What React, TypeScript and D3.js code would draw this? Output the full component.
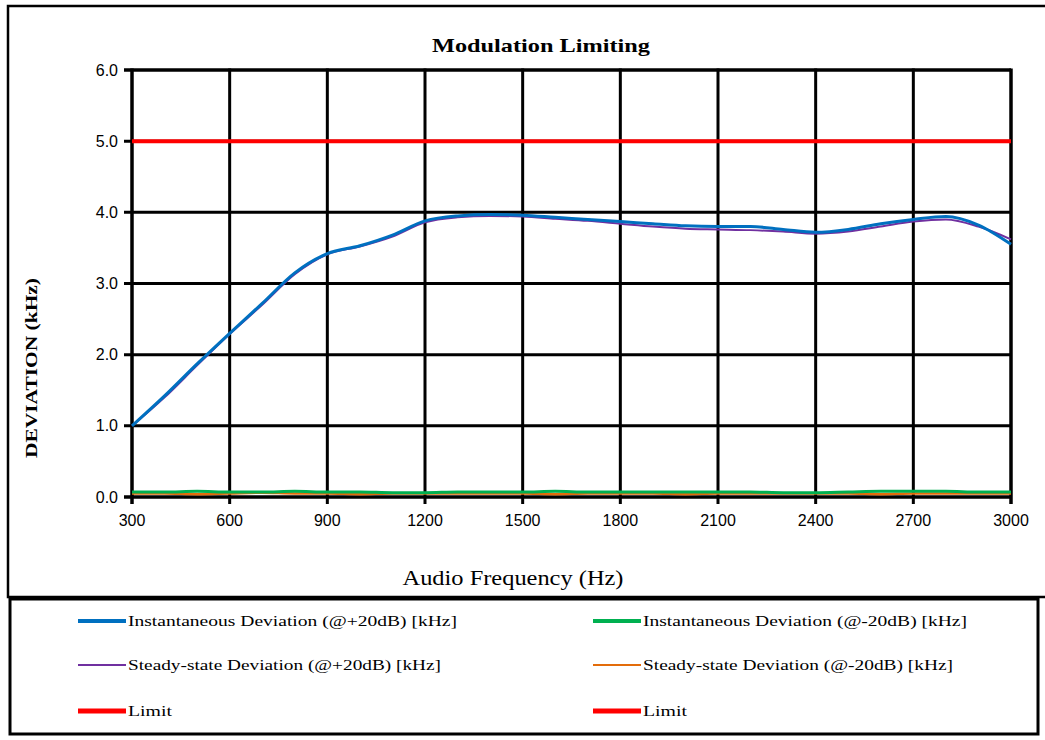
import * as React from "react";
import * as d3 from "d3";

// audio frequency points (Hz)
const freqs = [
  300, 400, 500, 600, 700, 800, 900, 1000, 1100, 1200, 1300, 1400, 1500, 1600,
  1700, 1800, 1900, 2000, 2100, 2200, 2300, 2400, 2500, 2600, 2700, 2800, 2900, 3000,
];

const instPlus = [
  1.0, 1.42, 1.87, 2.3, 2.72, 3.15, 3.42, 3.53, 3.68, 3.88, 3.95, 3.97, 3.96, 3.93,
  3.9, 3.87, 3.84, 3.81, 3.8, 3.8, 3.76, 3.72, 3.76, 3.84, 3.9, 3.94, 3.82, 3.55,
];
const steadyPlus = [
  1.0, 1.4, 1.85, 2.29, 2.7, 3.13, 3.41, 3.52, 3.66, 3.86, 3.93, 3.95, 3.94, 3.91,
  3.88, 3.84, 3.8, 3.77, 3.76, 3.75, 3.73, 3.7, 3.73, 3.8, 3.87, 3.9, 3.8, 3.62,
];
const instMinus = [
  0.07, 0.07, 0.08, 0.07, 0.07, 0.08, 0.07, 0.07, 0.06, 0.06, 0.07, 0.07, 0.07, 0.08,
  0.07, 0.07, 0.07, 0.07, 0.07, 0.07, 0.06, 0.06, 0.07, 0.08, 0.08, 0.08, 0.07, 0.07,
];
const steadyMinus = [
  0.05, 0.05, 0.04, 0.05, 0.06, 0.05, 0.05, 0.04, 0.05, 0.05, 0.05, 0.05, 0.05, 0.04,
  0.05, 0.05, 0.05, 0.04, 0.05, 0.05, 0.05, 0.05, 0.05, 0.04, 0.05, 0.05, 0.05, 0.05,
];
const limit = freqs.map(() => 5.0);

const xTicks = [300, 600, 900, 1200, 1500, 1800, 2100, 2400, 2700, 3000];
const yTicks = [0, 1, 2, 3, 4, 5, 6];

const legendItems = [
  { label: "Instantaneous Deviation (@+20dB) [kHz]", color: "#0070C0", w: 4, col: 0, row: 0, len: 329 },
  { label: "Instantaneous Deviation (@-20dB) [kHz]", color: "#00B050", w: 4, col: 1, row: 0, len: 324 },
  { label: "Steady-state Deviation (@+20dB) [kHz]", color: "#7030A0", w: 2, col: 0, row: 1, len: 313 },
  { label: "Steady-state Deviation (@-20dB) [kHz]", color: "#E36C0A", w: 2, col: 1, row: 1, len: 310 },
  { label: "Limit", color: "#FF0000", w: 5, col: 0, row: 2, len: 44 },
  { label: "Limit", color: "#FF0000", w: 5, col: 1, row: 2, len: 44 },
];

export default function App() {
  const margin = { left: 132, right: 34, top: 70, bottom: 243 };
  const W = 1045;
  const H = 740;
  const x = d3.scaleLinear().domain([300, 3000]).range([margin.left, W - margin.right]);
  const y = d3.scaleLinear().domain([0, 6]).range([H - margin.bottom, margin.top]);

  const line = d3
    .line<number>()
    .x((_, i) => x(freqs[i]))
    .y((d) => y(d))
    .curve(d3.curveMonotoneX);

  const series = [
    { data: limit, color: "#FF0000", w: 4 },
    { data: steadyMinus, color: "#E36C0A", w: 2.5 },
    { data: instMinus, color: "#00B050", w: 3 },
    { data: steadyPlus, color: "#7030A0", w: 2 },
    { data: instPlus, color: "#0070C0", w: 3 },
  ];

  const serif = "'Liberation Serif', 'DejaVu Serif', serif";
  const sans = "'Liberation Sans', Arial, sans-serif";
  const legendRows = [621, 665, 711];
  const legendCols = [78, 593];

  return (
    <svg
      width={W}
      height={H}
      style={{ position: "absolute", left: 0, top: 0, background: "#fff" }}
    >
      {/* outer chart frame */}
      <path d={`M1045,6 H8 V597 H1045`} fill="none" stroke="#000" strokeWidth={2.5} />

      <text
        x={541}
        y={52}
        textAnchor="middle"
        fontFamily={serif}
        fontWeight="bold"
        fontSize={19}
        textLength={218}
        lengthAdjust="spacingAndGlyphs"
      >
        Modulation Limiting
      </text>

      {/* grid */}
      {yTicks.map((t) => (
        <g key={"y" + t}>
          <line x1={x(300) - 8} x2={x(3000)} y1={y(t)} y2={y(t)} stroke="#000" strokeWidth={t === 0 || t === 6 ? 3.5 : 3} />
          <text x={118} y={y(t)} dy="0.35em" textAnchor="end" fontFamily={sans} fontSize={16}>
            {t.toFixed(1)}
          </text>
        </g>
      ))}
      {xTicks.map((t) => (
        <g key={"x" + t}>
          <line x1={x(t)} x2={x(t)} y1={y(6) - 1.5} y2={y(0) + 7} stroke="#000" strokeWidth={t === 300 || t === 3000 ? 3.5 : 3} />
          <text x={x(t)} y={526} textAnchor="middle" fontFamily={sans} fontSize={16}>
            {t}
          </text>
        </g>
      ))}

      {series.map((s, i) => (
        <path key={i} d={line(s.data) ?? undefined} fill="none" stroke={s.color} strokeWidth={s.w} strokeLinejoin="round" />
      ))}

      <text
        x={513}
        y={585}
        textAnchor="middle"
        fontFamily={serif}
        fontSize={20}
        textLength={221}
        lengthAdjust="spacingAndGlyphs"
      >
        Audio Frequency (Hz)
      </text>
      <text
        transform={`translate(37,368) rotate(-90)`}
        textAnchor="middle"
        fontFamily={serif}
        fontWeight="bold"
        fontSize={17}
        textLength={180}
        lengthAdjust="spacingAndGlyphs"
      >
        DEVIATION (kHz)
      </text>

      {/* legend */}
      <rect x={10} y={599} width={1028} height={135} fill="#fff" stroke="#000" strokeWidth={3} />
      {legendItems.map((it, i) => {
        const lx = legendCols[it.col];
        const ly = legendRows[it.row];
        return (
          <g key={i}>
            <line x1={lx} x2={lx + 48} y1={ly} y2={ly} stroke={it.color} strokeWidth={it.w} />
            <text
              x={lx + 50}
              y={ly}
              dy="0.32em"
              fontFamily={serif}
              fontSize={15}
              textLength={it.len}
              lengthAdjust="spacingAndGlyphs"
            >
              {it.label}
            </text>
          </g>
        );
      })}
    </svg>
  );
}
